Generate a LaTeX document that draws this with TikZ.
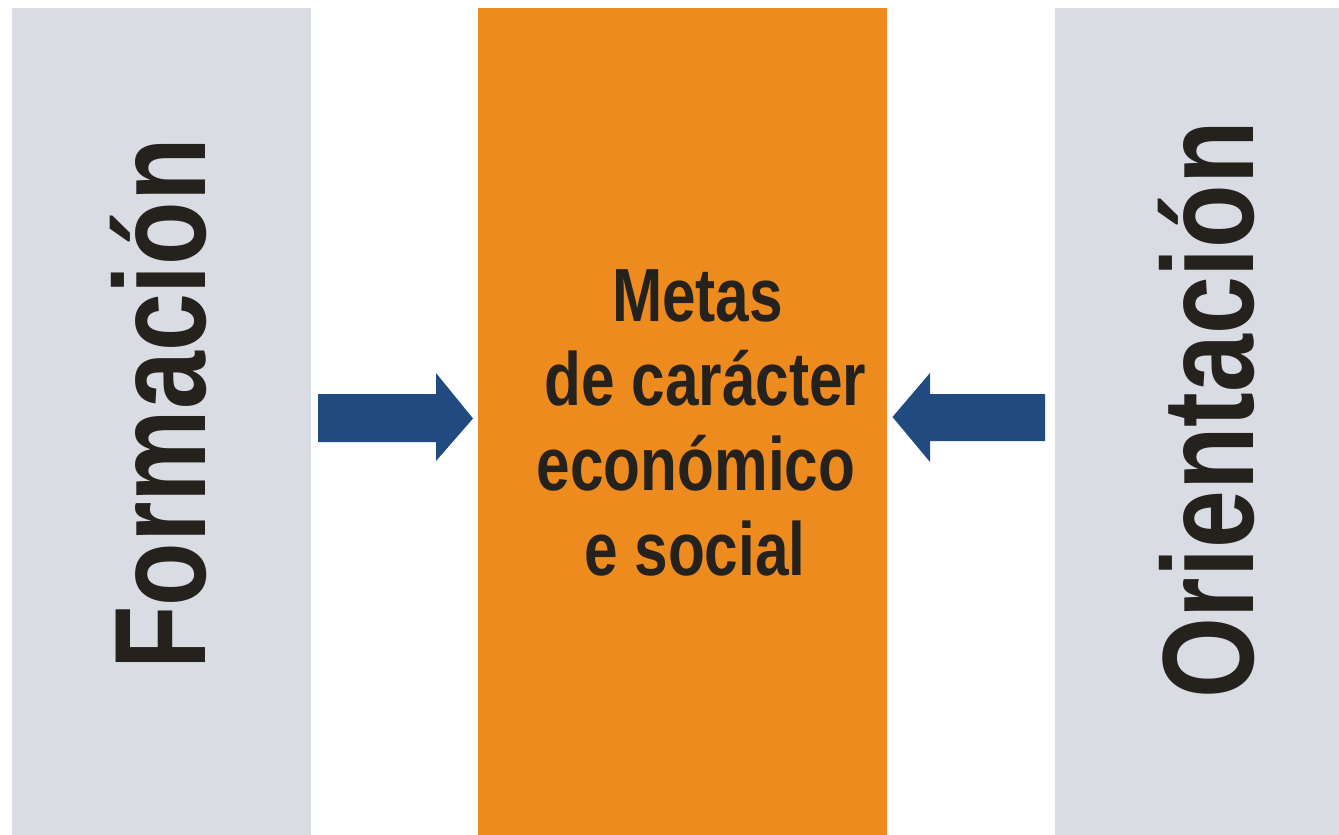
\documentclass[tikz,border=0pt]{standalone}
\usepackage{fontspec}
\setmainfont[FakeStretch=0.8]{Liberation Sans}
\definecolor{panelgrey}{HTML}{D9DCE3}
\definecolor{metaorange}{HTML}{EE8B1E}
\definecolor{arrowblue}{HTML}{214A80}
\definecolor{inkdark}{HTML}{25221E}
\begin{document}
\begin{tikzpicture}[x=1pt,y=-1pt,
  panel/.style={fill=panelgrey, draw=none},
  centerbox/.style={fill=metaorange, draw=none},
  blockarrow/.style={fill=arrowblue, draw=none},
  sidetext/.style={rotate=90, anchor=base, inner sep=0pt, text=inkdark,
    font=\fontsize{130}{130}\selectfont\bfseries},
  metatext/.style={anchor=base, inner sep=0pt, text=inkdark,
    font=\fontsize{75.4}{85}\selectfont\bfseries}]
\useasboundingbox (0,0) rectangle (1339,835);
\fill[white] (0,0) rectangle (1339,835);
% panels
\path[panel] (12,8) rectangle (311,835);
\path[centerbox] (478,8) rectangle (887,835);
\path[panel] (1055,8) rectangle (1339,835);
% side texts
\node[sidetext] (form) at (205,404) {Formación};
\node[sidetext] (orie) at (1253,410) {Orientación};
% centre text
\node[metatext] (m1) at (697.5,321) {Metas};
\node[metatext] (m2) at (705.5,405) {de carácter};
\node[metatext] (m3) at (696,490) {económico};
\node[metatext] (m4) at (695,575) {e social};
% arrows
\path[blockarrow] (318,394) -- (436,394) -- (436,373) -- (473,418.5) -- (436,461) -- (436,442) -- (318,442) -- cycle;
\path[blockarrow] (1045,394) -- (930,394) -- (930,373) -- (892.5,417) -- (930,462) -- (930,441) -- (1045,441) -- cycle;
\end{tikzpicture}
\end{document}
